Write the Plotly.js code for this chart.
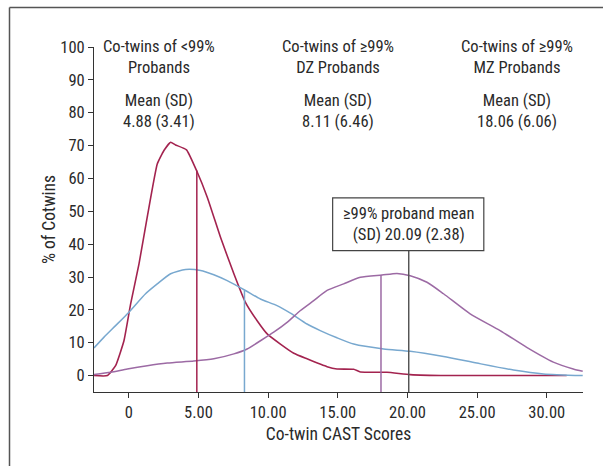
<!DOCTYPE html>
<html><head><meta charset="utf-8">
<script src="https://cdn.plot.ly/plotly-3.0.1.min.js"></script>
<style>html,body{margin:0;padding:0;background:#fff;}#chart{width:603px;height:466px;}</style>
</head><body><div id="chart"></div>
<script>
// Co-twins of <99% probands (red)
const redX = [-2.5,-1.54,-0.95,-0.35,0.13,0.73,1.32,2.04,2.52,3.0,3.35,4.14,4.86,5.63,6.58,7.54,8.37,9.21,9.93,10.88,11.84,12.79,14.23,14.94,16.14,16.62,18.53,20.2,22.83,31.43];
const redY = [0,0,3.0,10.6,21.8,34,48.2,64.4,68.5,71,70.2,68.7,62.4,54.3,42.1,31,22.3,16.7,12.7,9.6,6.8,5.1,2.7,2.0,1.9,1.1,1.0,0.3,0,0];
// Co-twins of >=99% DZ probands (blue)
const blueX = [-2.5,-1.78,-0.95,0.01,1.2,2.04,3.0,4.07,5.15,6.1,7.06,8.37,9.44,10.64,11.6,12.79,13.74,14.94,16.14,18.29,20.2,22.59,24.98,27.61,29.76,32.58];
const blueY = [8.4,11.7,15.2,19.3,24.9,27.9,31,32.3,32,30.7,28.9,25.9,23.3,21.3,19,15.7,13.7,11.5,9.6,8.1,7.4,5.8,3.8,1.7,0.5,0];
// Co-twins of >=99% MZ probands (purple)
const purpX = [-2.5,-1.3,-0.11,1.32,2.76,4.67,6.1,7.54,8.49,9.45,10.4,11.36,12.32,13.27,14.23,15.42,16.62,18.17,19.25,20.2,21.4,22.59,24.5,26.65,28.56,30.47,31.9,32.58];
const purpY = [0.3,1.0,2.0,3.0,3.8,4.4,5.1,6.6,8.1,10.6,13.2,16.2,19.8,22.8,25.9,27.9,29.9,30.6,31.1,30.4,28.4,24.9,18.8,13.7,8.6,4.1,2.0,1.3];
// mean markers
const meanX = [4.88, 8.3, 18.1, 20.09];
const meanTop = [62.4, 26, 30.6, 38];
const meanColors = ['#a3234f','#78a8cf','#9c6aa4','#555555'];
// header texts
const headX = [2.2, 15.04, 27.85];
const headTitle = ['Co-twins of &lt;99%<br>Probands','Co-twins of ≥99%<br>DZ Probands','Co-twins of ≥99%<br>MZ Probands'];
const headMean = ['Mean (SD)<br>4.88 (3.41)','Mean (SD)<br>8.11 (6.46)','Mean (SD)<br>18.06 (6.06)'];
const xTickVals = [0,5,10,15,20,25,30];
const xTickText = ['0','5.00','10.00','15.00','20.00','25.00','30.00'];
const yTickVals = [0,10,20,30,40,50,60,70,80,90,100];

const FONT = '"Liberation Sans Narrow", "Roboto Condensed", "Arial Narrow", Roboto, sans-serif';
const txt = '#2a2a2a';
const FS = 16.5;

const traces = [
  {x: redX, y: redY, mode:'lines', line:{color:'#a3234f', width:1.6, shape:'spline', smoothing:0.4}, hoverinfo:'skip'},
  {x: blueX, y: blueY, mode:'lines', line:{color:'#78a8cf', width:1.5, shape:'spline', smoothing:0.6}, hoverinfo:'skip'},
  {x: purpX, y: purpY, mode:'lines', line:{color:'#9c6aa4', width:1.5, shape:'spline', smoothing:0.6}, hoverinfo:'skip'}
];
meanX.forEach((mx,i)=>{
  traces.push({x:[mx,mx], y:[-5, meanTop[i]], mode:'lines', line:{color:meanColors[i], width:1.5}, hoverinfo:'skip'});
});

const annotations = [];
headX.forEach((hx,i)=>{
  annotations.push({x:hx, y:97.1, xref:'x', yref:'y', text:headTitle[i], showarrow:false, yanchor:'middle', align:'center', font:{family:FONT, size:FS, color:txt}});
  annotations.push({x:hx, y:80.6, xref:'x', yref:'y', text:headMean[i], showarrow:false, yanchor:'middle', align:'center', font:{family:FONT, size:FS, color:txt}});
});
annotations.push({x:20.05, y:46, xref:'x', yref:'y', text:'≥99% proband mean<br>(SD) 20.09 (2.38)', showarrow:false, align:'center',
  font:{family:FONT, size:FS, color:txt}});

const shapes = [
  {type:'rect', xref:'x', yref:'y', x0:14.63, x1:25.48, y0:38, y1:54.1, line:{color:'#444', width:1.2}, fillcolor:'rgba(0,0,0,0)'},
  {type:'line', xref:'paper', yref:'paper', x0:-0.1728, x1:1.2, y0:1.1147, y1:1.1147, line:{color:'#555', width:1.5}},
  {type:'line', xref:'paper', yref:'paper', x0:-0.1728, x1:-0.1728, y0:-0.3, y1:1.1147, line:{color:'#555', width:1.5}}
];

const layout = {
  width:603, height:466,
  margin:{l:93.6, r:19.8, t:46.6, b:74.2, pad:0},
  paper_bgcolor:'#fff', plot_bgcolor:'#fff',
  showlegend:false,
  font:{family:FONT, size:FS, color:txt},
  xaxis:{range:[-2.5,32.6], tickvals:xTickVals, ticktext:xTickText, ticks:'outside', ticklen:5, tickwidth:1, tickcolor:'#333',
    showline:true, linecolor:'#333', linewidth:1, showgrid:false, zeroline:false, tickfont:{family:FONT,size:FS,color:txt},
    title:{text:'Co-twin CAST Scores', font:{family:FONT,size:17.5,color:txt}, standoff:6}},
  yaxis:{range:[-5,100], tickvals:yTickVals, ticks:'outside', ticklen:5, tickwidth:1, tickcolor:'#333',
    showline:true, linecolor:'#333', linewidth:1, showgrid:false, zeroline:false, tickfont:{family:FONT,size:FS,color:txt},
    title:{text:'% of Cotwins', font:{family:FONT,size:17.5,color:txt}, standoff:0}},
  annotations, shapes
};
Plotly.newPlot('chart', traces, layout, {staticPlot:true, displayModeBar:false});
</script></body></html>
